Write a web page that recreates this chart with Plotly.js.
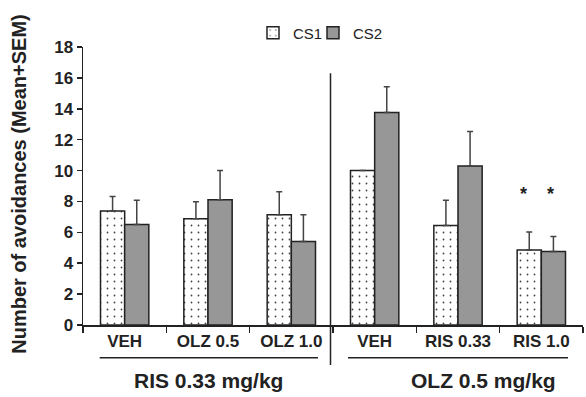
<!DOCTYPE html>
<html>
<head>
<meta charset="utf-8">
<script src="https://cdn.plot.ly/plotly-3.0.1.min.js"></script>
<style>
html,body{margin:0;padding:0;background:#fff;}
#chart{width:586px;height:397px;}
</style>
</head>
<body>
<div id="chart"></div>
<script>
// ---- data ----
const categories = ['VEH', 'OLZ 0.5', 'OLZ 1.0', 'VEH', 'RIS 0.33', 'RIS 1.0'];
const groupLabels = ['RIS 0.33 mg/kg', 'OLZ 0.5 mg/kg'];
const cs1Mean = [7.38, 6.88, 7.14, 10.0, 6.45, 4.85];
const cs1Sem  = [0.94, 1.10, 1.49, 0.0, 1.62, 1.17];
const cs2Mean = [6.51, 8.11, 5.41, 13.76, 10.29, 4.76];
const cs2Sem  = [1.56, 1.89, 1.73, 1.66, 2.24, 0.97];
const sigCategoryIndex = 5;        // RIS 1.0 (OLZ 0.5 mg/kg group)
const sigLevel = 8.45;             // y-level where the asterisks sit
const yTicks = [0, 2, 4, 6, 8, 10, 12, 14, 16, 18];

const xIdx = categories.map((c, i) => i);
const zeros = categories.map(() => 0);
const font = 'Liberation Sans, Arial, sans-serif';
const ink = '#222';

const traces = [
  {
    type: 'bar', name: 'CS1', x: xIdx, y: cs1Mean, legend: 'legend',
    marker: {
      color: 'white',
      line: {color: ink, width: 1.5},
      pattern: {shape: '.', fgcolor: '#444', bgcolor: 'white', size: 7, solidity: 0.05}
    },
    error_y: {type: 'data', symmetric: false, array: cs1Sem, arrayminus: zeros,
              color: '#444', thickness: 1.5, width: 3}
  },
  {
    type: 'bar', name: 'CS2', x: xIdx, y: cs2Mean, legend: 'legend2',
    marker: {
      color: '#999',
      line: {color: ink, width: 1.5},
      pattern: {shape: '.', fgcolor: '#4a4a4a', bgcolor: '#d4d4d4', size: 2, solidity: 0.5}
    },
    error_y: {type: 'data', symmetric: false, array: cs2Sem, arrayminus: zeros,
              color: '#444', thickness: 1.5, width: 3}
  }
];

const annotations = [
  {xref: 'paper', yref: 'paper', x: -0.128, y: 0.508, textangle: -90,
   text: '<b>Number of avoidances (Mean+SEM)</b>', showarrow: false,
   xanchor: 'center', yanchor: 'middle', font: {family: font, size: 20, color: ink}},
  {xref: 'x', yref: 'paper', x: 1, y: -0.2, text: '<b>' + groupLabels[0] + '</b>',
   showarrow: false, xanchor: 'center', yanchor: 'middle', font: {family: font, size: 21, color: ink}},
  {xref: 'x', yref: 'paper', x: 4.3, y: -0.2, text: '<b>' + groupLabels[1] + '</b>',
   showarrow: false, xanchor: 'center', yanchor: 'middle', font: {family: font, size: 21, color: ink}},
  {xref: 'x', yref: 'y', x: sigCategoryIndex - 0.22, y: sigLevel, text: '<b>*</b>',
   showarrow: false, xanchor: 'center', yanchor: 'middle', font: {family: font, size: 18, color: ink}},
  {xref: 'x', yref: 'y', x: sigCategoryIndex + 0.11, y: sigLevel, text: '<b>*</b>',
   showarrow: false, xanchor: 'center', yanchor: 'middle', font: {family: font, size: 18, color: ink}}
];

const shapes = [
  {type: 'line', xref: 'x', yref: 'paper', x0: 2.47, x1: 2.47, y0: 0.906, y1: -0.144,
   line: {color: ink, width: 1.5}},
  {type: 'line', xref: 'x', yref: 'paper', x0: -0.3, x1: 2.32, y0: -0.118, y1: -0.118,
   line: {color: ink, width: 1.5}},
  {type: 'line', xref: 'x', yref: 'paper', x0: 2.68, x1: 5.32, y0: -0.118, y1: -0.118,
   line: {color: ink, width: 1.5}}
];

const legendBase = {orientation: 'h', xanchor: 'left', y: 1.05, yanchor: 'middle',
  font: {family: font, size: 15, color: ink}, bgcolor: 'rgba(0,0,0,0)'};

const layout = {
  width: 586, height: 397,
  margin: {l: 83, r: 3, t: 47, b: 72},
  paper_bgcolor: 'white', plot_bgcolor: 'white',
  barmode: 'group', bargap: 0.42, bargroupgap: 0,
  showlegend: true,
  legend: Object.assign({}, legendBase, {x: 0.34}),
  legend2: Object.assign({}, legendBase, {x: 0.46}),
  font: {family: font, color: ink},
  xaxis: {
    range: [-0.5, 5.5], tickvals: xIdx, ticktext: categories.map(c => '<b>' + c + '</b>'),
    ticks: '', showline: true, linecolor: ink, linewidth: 1.5, showgrid: false, zeroline: false,
    tickfont: {family: font, size: 17, color: ink},
    minor: {tick0: -0.5, dtick: 1, ticks: 'outside', ticklen: 6, tickcolor: ink, tickwidth: 1.5, showgrid: false}
  },
  yaxis: {
    range: [0, 18], tickvals: yTicks, ticktext: yTicks.map(v => '<b>' + v + '</b>'),
    ticks: 'outside', ticklen: 5, tickwidth: 1.5, tickcolor: ink,
    showline: true, linecolor: ink, linewidth: 1.5, showgrid: false, zeroline: false,
    tickfont: {family: font, size: 17, color: ink}
  },
  annotations: annotations,
  shapes: shapes
};

Plotly.newPlot('chart', traces, layout, {displayModeBar: false, staticPlot: true});
</script>
</body>
</html>
